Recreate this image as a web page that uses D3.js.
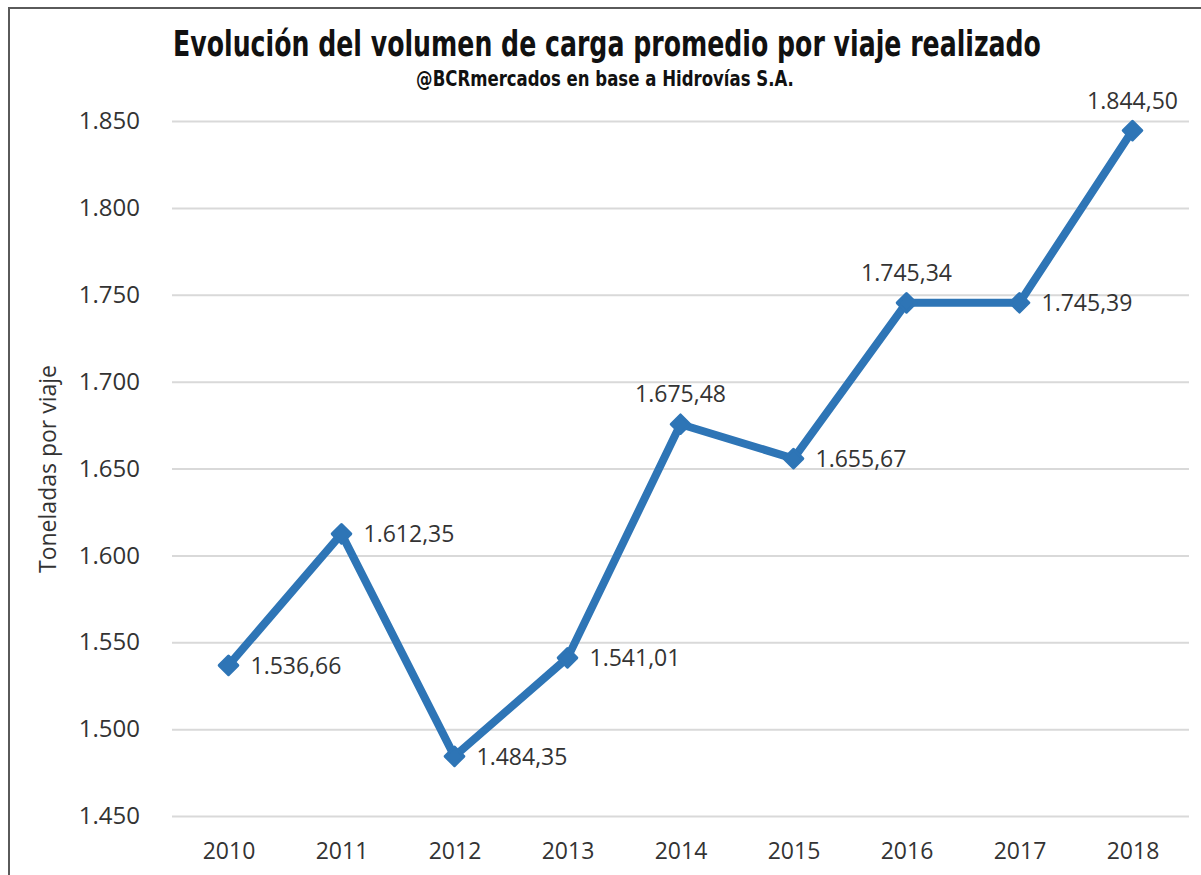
<!DOCTYPE html>
<html>
<head>
<meta charset="utf-8">
<script src="https://cdn.jsdelivr.net/npm/d3@7"></script>
<style>
  html, body { margin: 0; padding: 0; background: #fff; }
  svg { display: block; }
</style>
</head>
<body>
<svg id="chart"></svg>
<script>
// chart data
const years = ["2010", "2011", "2012", "2013", "2014", "2015", "2016", "2017", "2018"];
const tonsPerTrip = [1536.66, 1612.35, 1484.35, 1541.01, 1675.48, 1655.67, 1745.34, 1745.39, 1844.50];
const labelSide = ["right", "right", "right", "right", "top", "right", "top", "right", "top"];
const yTicks = [1450, 1500, 1550, 1600, 1650, 1700, 1750, 1800, 1850];

const titleText = "Evolución del volumen de carga promedio por viaje realizado";
const subtitleText = "@BCRmercados en base a Hidrovías S.A.";
const yAxisText = "Toneladas por viaje";

const width = 1201, height = 875;
const margin = { top: 121, right: 12, bottom: 59, left: 172 };
const plotW = width - margin.left - margin.right;
const plotH = height - margin.top - margin.bottom;

const lineColor = "#2e75b6";
const textColor = "#333";
const bodyFont = "'Open Sans', 'Noto Sans', sans-serif";
const condFont = "'Liberation Sans Narrow', 'DejaVu Sans Condensed', sans-serif";

// es-AR style number format: 1.536,66
const esLocale = d3.formatLocale({ decimal: ",", thousands: ".", grouping: [3], currency: ["$", ""] });
const fmtTick = esLocale.format(",.0f");
const fmtLabel = esLocale.format(",.2f");

const svg = d3.select("#chart")
  .attr("width", width)
  .attr("height", height);

svg.append("rect")
  .attr("width", width)
  .attr("height", height)
  .attr("fill", "#fff");

// outer frame (cropped at right and bottom)
svg.append("rect")
  .attr("x", 9)
  .attr("y", 8)
  .attr("width", 1210)
  .attr("height", 900)
  .attr("fill", "none")
  .attr("stroke", "#5a5a5a")
  .attr("stroke-width", 2);

const g = svg.append("g")
  .attr("transform", "translate(" + margin.left + "," + margin.top + ")");

const xScale = d3.scalePoint()
  .domain(years)
  .range([0, plotW])
  .padding(0.5);

const yScale = d3.scaleLinear()
  .domain([1450, 1850])
  .range([plotH, 0]);

// horizontal gridlines
const yAxis = d3.axisLeft(yScale)
  .tickValues(yTicks)
  .tickSize(-plotW)
  .tickFormat(fmtTick)
  .tickPadding(32);

const yAxisLine = g.append("g")
  .attr("class", "y-axis")
  .call(yAxis);

yAxisLine.select(".domain").remove();
yAxisLine.selectAll("line")
  .style("stroke", "#d9d9d9")
  .style("stroke-width", "2px");
yAxisLine.selectAll("text")
  .style("font-size", "24px")
  .style("font-family", bodyFont)
  .style("fill", textColor);

const xAxis = d3.axisBottom(xScale)
  .tickSize(0)
  .tickPadding(27);

const xAxisLine = g.append("g")
  .attr("class", "x-axis")
  .attr("transform", "translate(0," + plotH + ")")
  .call(xAxis);

xAxisLine.select(".domain").remove();
xAxisLine.selectAll("text")
  .style("font-size", "23px")
  .style("font-family", bodyFont)
  .style("fill", textColor);

// the series line
const line = d3.line()
  .x((d, i) => xScale(years[i]))
  .y(d => yScale(d));

g.append("path")
  .datum(tonsPerTrip)
  .attr("fill", "none")
  .attr("stroke", lineColor)
  .attr("stroke-width", 8)
  .attr("stroke-linejoin", "round")
  .attr("d", line);

// diamond markers
const diamond = d3.symbol().type(d3.symbolDiamond2).size(220);
g.selectAll(".marker")
  .data(tonsPerTrip)
  .enter()
  .append("path")
  .attr("class", "marker")
  .attr("d", diamond)
  .attr("transform", (d, i) => "translate(" + xScale(years[i]) + "," + yScale(d) + ")")
  .attr("fill", lineColor)
  .attr("stroke", lineColor)
  .attr("stroke-width", 3)
  .attr("stroke-linejoin", "round");

// data labels
g.selectAll(".data-label")
  .data(tonsPerTrip)
  .enter()
  .append("text")
  .attr("class", "data-label")
  .attr("x", (d, i) => labelSide[i] == "top" ? xScale(years[i]) : xScale(years[i]) + 22)
  .attr("y", (d, i) => labelSide[i] == "top" ? yScale(d) - 22 : yScale(d))
  .attr("dy", (d, i) => labelSide[i] == "top" ? 0 : "0.36em")
  .attr("text-anchor", (d, i) => labelSide[i] == "top" ? "middle" : "start")
  .style("font-size", "23px")
  .style("font-family", bodyFont)
  .style("fill", textColor)
  .text(d => fmtLabel(d));

// y axis title
svg.append("text")
  .attr("transform", "translate(56,469) rotate(-90)")
  .attr("text-anchor", "middle")
  .style("font-size", "23px")
  .style("font-family", bodyFont)
  .style("fill", textColor)
  .text(yAxisText);

// squeeze a text horizontally so it spans targetWidth, centred on cx
function squeezeText(sel, cx, y, targetWidth) {
  const w = sel.node().getComputedTextLength();
  const k = w > 0 ? targetWidth / w : 1;
  sel.attr("transform", "translate(" + cx + "," + y + ") scale(" + k.toFixed(4) + ",1)");
}

// title + subtitle
const title = svg.append("text")
  .attr("text-anchor", "middle")
  .style("font-size", "36px")
  .style("font-weight", "bold")
  .style("font-family", condFont)
  .style("fill", "#111")
  .text(titleText);
squeezeText(title, 607, 56, 868);

const subtitle = svg.append("text")
  .attr("text-anchor", "middle")
  .style("font-size", "21px")
  .style("font-weight", "bold")
  .style("font-family", condFont)
  .style("fill", "#111")
  .text(subtitleText);
squeezeText(subtitle, 605, 86, 378);
</script>
</body>
</html>
